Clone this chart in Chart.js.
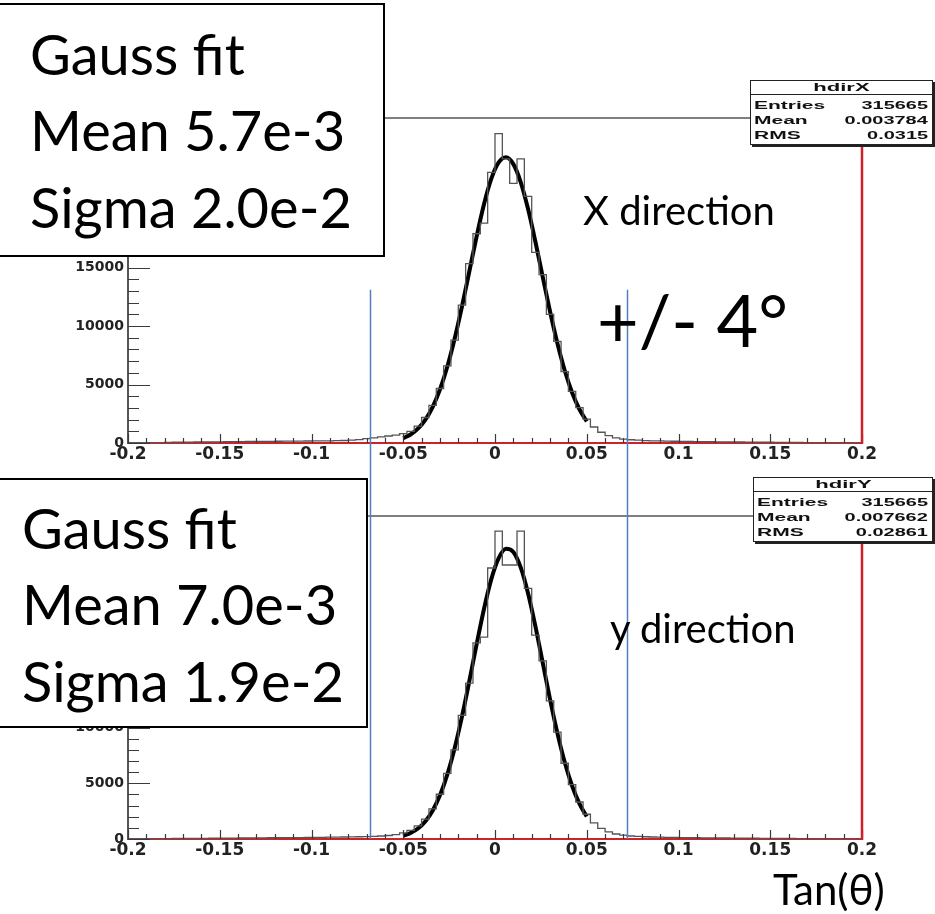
<!DOCTYPE html>
<html>
<head>
<meta charset="utf-8">
<script src="https://cdn.jsdelivr.net/npm/chart.js@4.4.0/dist/chart.umd.min.js"></script>
<style>
  html, body { margin: 0; padding: 0; background: #fff; }
  body { width: 935px; height: 914px; position: relative; overflow: hidden; }
  canvas { position: absolute; left: 0; z-index: 1; }
  #topChart { top: 0; }
  #botChart { top: 478px; }
  .txt { position: absolute; font-family: Lato, 'Open Sans', sans-serif; color: #000;
         line-height: 1.2; white-space: nowrap; z-index: 5; }
  .fitbox { position: absolute; background: #fff; border: 2px solid #000; box-sizing: border-box; z-index: 4; }
  .stats { position: absolute; background: #fff; border: 1px solid #222; box-shadow: 2px 2px 0 #222;
           z-index: 6; font: bold 10.5px 'Liberation Sans', Arial, sans-serif; color: #111; }
  .stats .st-title { height: 13px; line-height: 13px; border-bottom: 1px solid #222; text-align: center; margin-bottom: 3px; }
  .stats .st-title span { display: inline-block; transform: scaleX(2.1); }
  .stats .st-row { height: 15px; line-height: 15px; position: relative; }
  .stats .k { position: absolute; left: 3px; transform: scaleX(2.0); transform-origin: left center; }
  .stats .v { position: absolute; right: 4px; transform: scaleX(1.9); transform-origin: right center; }
</style>
</head>
<body>
<canvas id="topChart" width="935" height="478"></canvas>
<canvas id="botChart" width="935" height="436"></canvas>
<div class="fitbox" style="left:-3px; top:3px; width:388px; height:254px;"></div>
<div class="fitbox" style="left:-3px; top:478px; width:371px; height:250px;"></div>

<script>
// histogram binning: 100 bins from -0.2 to 0.2
const binLow = -0.2;
const binWidth = 0.004;

// hdirX : X direction, entries per bin
const xCounts = [
  20, 25, 30, 30, 40, 60, 70, 75, 80, 85,
  90, 95, 100, 110, 115, 120, 130, 135, 140, 145,
  150, 155, 160, 165, 170, 180, 185, 190, 200, 215,
  240, 290, 370, 440, 520, 600, 680, 800, 1000, 1450,
  2180, 3220, 4660, 6600, 8800, 11800, 15350, 17900, 18800, 23150,
  26470, 24300, 22200, 24300, 21100, 16300, 14400, 11000, 8700, 6100,
  4420, 3030, 2050, 1370, 920, 630, 445, 340, 280, 240,
  210, 190, 175, 160, 150, 140, 130, 120, 115, 110,
  100, 95, 90, 85, 80, 75, 70, 65, 60, 55,
  50, 45, 40, 38, 35, 30, 28, 25, 22, 20
];

// hdirY : y direction, entries per bin
const yCounts = [
  15, 20, 25, 30, 35, 40, 45, 50, 55, 60,
  65, 70, 75, 80, 85, 90, 95, 100, 105, 110,
  115, 120, 125, 130, 135, 140, 150, 160, 170, 180,
  190, 200, 220, 240, 270, 315, 400, 550, 780, 1170,
  1780, 2700, 4020, 5900, 8000, 11100, 14000, 17600, 18130, 24330,
  27650, 24600, 24600, 27650, 22500, 18300, 16000, 12400, 9600, 6800,
  4880, 3320, 2220, 1450, 960, 645, 450, 340, 270, 230,
  200, 180, 165, 150, 140, 130, 120, 110, 105, 100,
  95, 90, 85, 80, 75, 70, 65, 60, 55, 50,
  45, 40, 35, 32, 30, 28, 25, 22, 20, 18
];

// gaussian fit curves, read at the bin centres of the fit range
const fitX = [-0.050, -0.046, -0.042, -0.038, -0.034, -0.030, -0.026, -0.022, -0.018, -0.014,
              -0.010, -0.006, -0.002, 0.002, 0.006, 0.010, 0.014, 0.018, 0.022, 0.026,
              0.030, 0.034, 0.038, 0.042, 0.046, 0.050];
const fitXVals = [414, 727, 1227, 1985, 3077, 4573, 6521, 8911, 11677, 14671,
                  17675, 20415, 22607, 24000, 24440, 23853, 22324, 20031, 17233, 14217,
                  11245, 8527, 6200, 4321, 2889, 1850];
const fitYVals = [290, 533, 939, 1579, 2545, 3920, 5776, 8143, 10983, 14170,
                  17490, 20653, 23331, 25213, 26063, 25776, 24388, 22073, 19113, 15830,
                  12544, 9508, 6896, 4784, 3174, 2015];

// +/- 4 degree cut lines, tan(theta)
const cutLines = [-0.068, 0.072];

const xTickLabels = ['-0.2', '-0.15', '-0.1', '-0.05', '0', '0.05', '0.1', '0.15', '0.2'];
const yTickLabels = ['0', '5000', '10000', '15000', '20000', '25000'];

const gaussX = ['Gauss fit', 'Mean 5.7e-3', 'Sigma 2.0e-2'];
const gaussY = ['Gauss fit', 'Mean 7.0e-3', 'Sigma 1.9e-2'];
const statsX = ['hdirX', ['Entries', '315665'], ['Mean', '0.003784'], ['RMS', '0.0315']];
const statsY = ['hdirY', ['Entries', '315665'], ['Mean', '0.007662'], ['RMS', '0.02861']];

function xLabel(v) {
  const hit = xTickLabels.find(s => Math.abs(parseFloat(s) - v) < 1e-6);
  return hit === undefined ? '' : hit;
}
function yLabel(v) {
  const hit = yTickLabels.find(s => Math.abs(parseFloat(s) - v) < 0.5);
  return hit === undefined ? '' : hit;
}

function histPoints(counts) {
  const pts = counts.map((c, i) => ({ x: binLow + i * binWidth, y: c }));
  pts.push({ x: binLow + counts.length * binWidth, y: 0 });
  return pts;
}

// ROOT style frame: inner ticks, top line, red right edge, blue cut lines
const rootFrame = {
  id: 'rootFrame',
  afterDatasetsDraw(chart, args, opts) {
    const { ctx, chartArea: a } = chart;
    const x = chart.scales.x, y = chart.scales.y;
    ctx.save();
    ctx.lineWidth = 1.2;
    ctx.strokeStyle = '#3a3a3a';
    ctx.beginPath();
    y.ticks.forEach(t => {
      const py = Math.round(y.getPixelForValue(t.value)) + 0.5;
      const len = yLabel(t.value) ? 22 : 11;
      ctx.moveTo(a.left, py);
      ctx.lineTo(a.left + len, py);
    });
    x.ticks.forEach(t => {
      const px = Math.round(x.getPixelForValue(t.value)) + 0.5;
      const len = xLabel(t.value) ? 9 : 5;
      ctx.moveTo(px, a.bottom);
      ctx.lineTo(px, a.bottom - len);
    });
    ctx.stroke();

    ctx.strokeStyle = '#555';
    ctx.lineWidth = 1.5;
    ctx.beginPath();
    ctx.moveTo(a.left, a.top);
    ctx.lineTo(a.right, a.top);
    ctx.stroke();

    ctx.strokeStyle = '#d0202a';
    ctx.lineWidth = 2.5;
    ctx.beginPath();
    ctx.moveTo(a.right, a.top);
    ctx.lineTo(a.right, a.bottom + 1);
    ctx.stroke();

    ctx.strokeStyle = '#4f81bd';
    ctx.lineWidth = 1.5;
    const y0 = opts.cutFrom == null ? 0 : y.getPixelForValue(opts.cutFrom);
    const y1 = opts.cutFrom == null ? y.getPixelForValue(0) : chart.height;
    ctx.beginPath();
    cutLines.forEach(v => {
      const px = Math.round(x.getPixelForValue(v)) + 0.5;
      ctx.moveTo(px, y0);
      ctx.lineTo(px, y1);
    });
    ctx.stroke();
    ctx.restore();
  }
};

Chart.defaults.font.family = "'DejaVu Sans', sans-serif";
Chart.defaults.animation = false;

function makePanel(id, counts, fitVals, yMax, padTop, padBottom, cutFrom) {
  return new Chart(document.getElementById(id), {
    type: 'line',
    data: {
      datasets: [
        {
          data: histPoints(counts),
          stepped: true,
          borderColor: '#555',
          borderWidth: 1.3,
          pointRadius: 0,
          fill: false
        },
        {
          data: fitX.map((v, i) => ({ x: v, y: fitVals[i] })),
          borderColor: '#000',
          borderWidth: 4,
          pointRadius: 0,
          cubicInterpolationMode: 'monotone',
          fill: false
        }
      ]
    },
    options: {
      responsive: false,
      animation: false,
      layout: { padding: { left: 0, right: 73, top: padTop, bottom: padBottom } },
      plugins: { legend: { display: false }, tooltip: { enabled: false }, rootFrame: { cutFrom: cutFrom } },
      scales: {
        x: {
          type: 'linear', min: -0.2, max: 0.2,
          grid: { display: false, drawTicks: false },
          border: { display: true, color: '#cc2229', width: 2 },
          ticks: {
            autoSkip: false, maxRotation: 0, padding: 1,
            color: '#222', font: { size: 17, weight: 'bold' },
            callback: v => xLabel(v)
          },
          // minor ticks every 0.01
          afterBuildTicks: s => {
            s.ticks = Array.from({ length: 41 }, (_, i) => ({ value: Math.round((-0.2 + i * 0.01) * 100) / 100 }));
          },
          afterFit: s => { s.height = 26; }
        },
        y: {
          type: 'linear', min: 0, max: yMax,
          grid: { display: false, drawTicks: false },
          border: { display: true, color: '#555', width: 2 },
          ticks: {
            autoSkip: false, padding: 4,
            color: '#222', font: { size: 14, weight: 'bold' },
            callback: v => yLabel(v)
          },
          // minor ticks every 1000 entries
          afterBuildTicks: s => {
            s.ticks = Array.from({ length: Math.floor(yMax / 1000) + 1 }, (_, i) => ({ value: i * 1000 }));
          },
          afterFit: s => { s.width = 128; }
        }
      }
    },
    plugins: [rootFrame]
  });
}

makePanel('topChart', xCounts, fitXVals, 27800, 118, 9, 13100);
makePanel('botChart', yCounts, fitYVals, 29000, 38, 49, null);

// text overlays
function addText(str, x, baseline, size) {
  const d = document.createElement('div');
  d.className = 'txt';
  d.textContent = str;
  d.style.left = x + 'px';
  d.style.top = (baseline - 0.987 * size) + 'px';
  d.style.fontSize = size + 'px';
  document.body.appendChild(d);
}
gaussX.forEach((s, i) => addText(s, 30, 75 + i * 76.5, 56));
gaussY.forEach((s, i) => addText(s, 22, 549 + i * 76.5, 56));
addText('X direction', 583, 225, 40);
addText('+/- 4°', 597, 347, 72);
addText('y direction', 610, 643, 40);
addText('Tan(θ)', 773, 905, 42);

function addStats(info, left, top, width) {
  const box = document.createElement('div');
  box.className = 'stats';
  box.style.left = left + 'px';
  box.style.top = top + 'px';
  box.style.width = width + 'px';
  box.style.height = '63px';
  const title = document.createElement('div');
  title.className = 'st-title';
  title.innerHTML = '<span>' + info[0] + '</span>';
  box.appendChild(title);
  info.slice(1).forEach(([k, v]) => {
    const row = document.createElement('div');
    row.className = 'st-row';
    row.innerHTML = '<span class="k">' + k + '</span><span class="v">' + v + '</span>';
    box.appendChild(row);
  });
  document.body.appendChild(box);
}
addStats(statsX, 750, 80, 181);
addStats(statsY, 753, 477, 178);
</script>
</body>
</html>
